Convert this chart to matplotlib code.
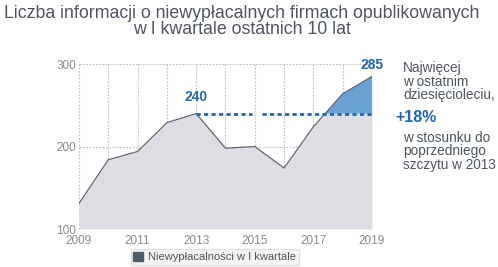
import numpy as np
import matplotlib.pyplot as plt
from matplotlib.patches import Patch

years = [2009, 2010, 2011, 2012, 2013, 2014, 2015, 2016, 2017, 2018, 2019]
counts = [131, 184, 194, 229, 240, 198, 200, 174, 224, 264, 285]
prev_peak = 240
tick_years = [2009, 2011, 2013, 2015, 2017, 2019]
y_ticks = [100, 200, 300]
note_top = ['Najwięcej', 'w ostatnim', 'dziesięcioleciu,']
note_pct = '+18%'
note_bottom = ['w stosunku do', 'poprzedniego', 'szczytu w 2013']

plt.rcParams['font.family'] = ['Liberation Sans', 'DejaVu Sans']

grey_fill = '#dcdee1'
line_col = '#5d6772'
blue = '#1f66b3'
blue_fill = '#6aa3d1'
txt_grey = '#4b5662'

W, H = 498, 267
fig = plt.figure(figsize=(W / 100, H / 100), dpi=100)
ax = fig.add_axes([0.1586, 0.1423, 0.747 - 0.1586, 0.760 - 0.1423])

x = np.array(years, dtype=float)
y = np.array(counts, dtype=float)

# grey area + outline
ax.fill_between(x, 100, y, color=grey_fill, lw=0, zorder=1)
ax.plot(x, y, color=line_col, lw=0.9, zorder=3)

# blue area above previous peak
ax.fill_between(x, prev_peak, y, where=y >= prev_peak, interpolate=True,
                color=blue_fill, lw=0, zorder=2)

# dashed reference line from the 2013 peak
ax.plot([2013, 2014.9], [prev_peak, prev_peak], color=blue, lw=2,
        ls=(0, (1.5, 1.2)), zorder=4)
ax.plot([2015.25, 2019], [prev_peak, prev_peak], color=blue, lw=2,
        ls=(0, (1.5, 1.2)), zorder=4)

ax.text(2013, prev_peak + 11, str(counts[4]), color=blue, fontsize=10,
        fontweight='bold', ha='center', va='bottom')
ax.text(2019, counts[-1] + 5, str(counts[-1]), color=blue, fontsize=10,
        fontweight='bold', ha='center', va='bottom')

# grid
for yr in years:
    ax.axvline(yr, color='#bdbdbd', lw=0.8, ls=(0, (1.5, 1.5)), zorder=0.5)
for v in y_ticks:
    ax.axhline(v, color='#bdbdbd', lw=0.8, ls=(0, (1.5, 1.5)), zorder=0.5)

ax.set_xlim(2009, 2019)
ax.set_ylim(100, 300)
ax.set_xticks(tick_years)
ax.set_yticks(y_ticks)
ax.tick_params(length=0, labelsize=8.5, colors='#8a8a8a')
ax.tick_params(axis='x', pad=4)
ax.tick_params(axis='y', pad=2)
for s in ax.spines.values():
    s.set_visible(False)
ax.set_facecolor('none')

fig.text(0.485, 0.948, 'Liczba informacji o niewypłacalnych firmach opublikowanych',
         ha='center', va='center', fontsize=12.8, color=txt_grey)
fig.text(0.485, 0.888, 'w I kwartale ostatnich 10 lat',
         ha='center', va='center', fontsize=12.8, color=txt_grey)

# side note (baselines in pixels from top)
for txt, base in zip(note_top, [72, 85.5, 99]):
    fig.text(403 / W, 1 - base / H, txt, ha='left', va='baseline',
             fontsize=9.8, color=txt_grey)
fig.text(395 / W, 1 - 122 / H, note_pct, ha='left', va='baseline',
         fontsize=11.5, fontweight='bold', color=blue)
for txt, base in zip(note_bottom, [141.5, 155, 168.5]):
    fig.text(403 / W, 1 - base / H, txt, ha='left', va='baseline',
             fontsize=9.8, color=txt_grey)

leg = fig.legend(handles=[Patch(facecolor='#4e5b68', edgecolor='#4e5b68',
                               label='Niewypłacalności w I kwartale')],
                 loc='center', bbox_to_anchor=(0.431, 0.037), fontsize=8,
                 frameon=True, fancybox=False, handlelength=0.9, handleheight=0.9,
                 handletextpad=0.4, borderpad=0.25)
leg.get_frame().set_facecolor('#f2f2f2')
leg.get_frame().set_edgecolor('#dddddd')
for t in leg.get_texts():
    t.set_color('#555555')

fig.savefig('out.png', dpi=100)
